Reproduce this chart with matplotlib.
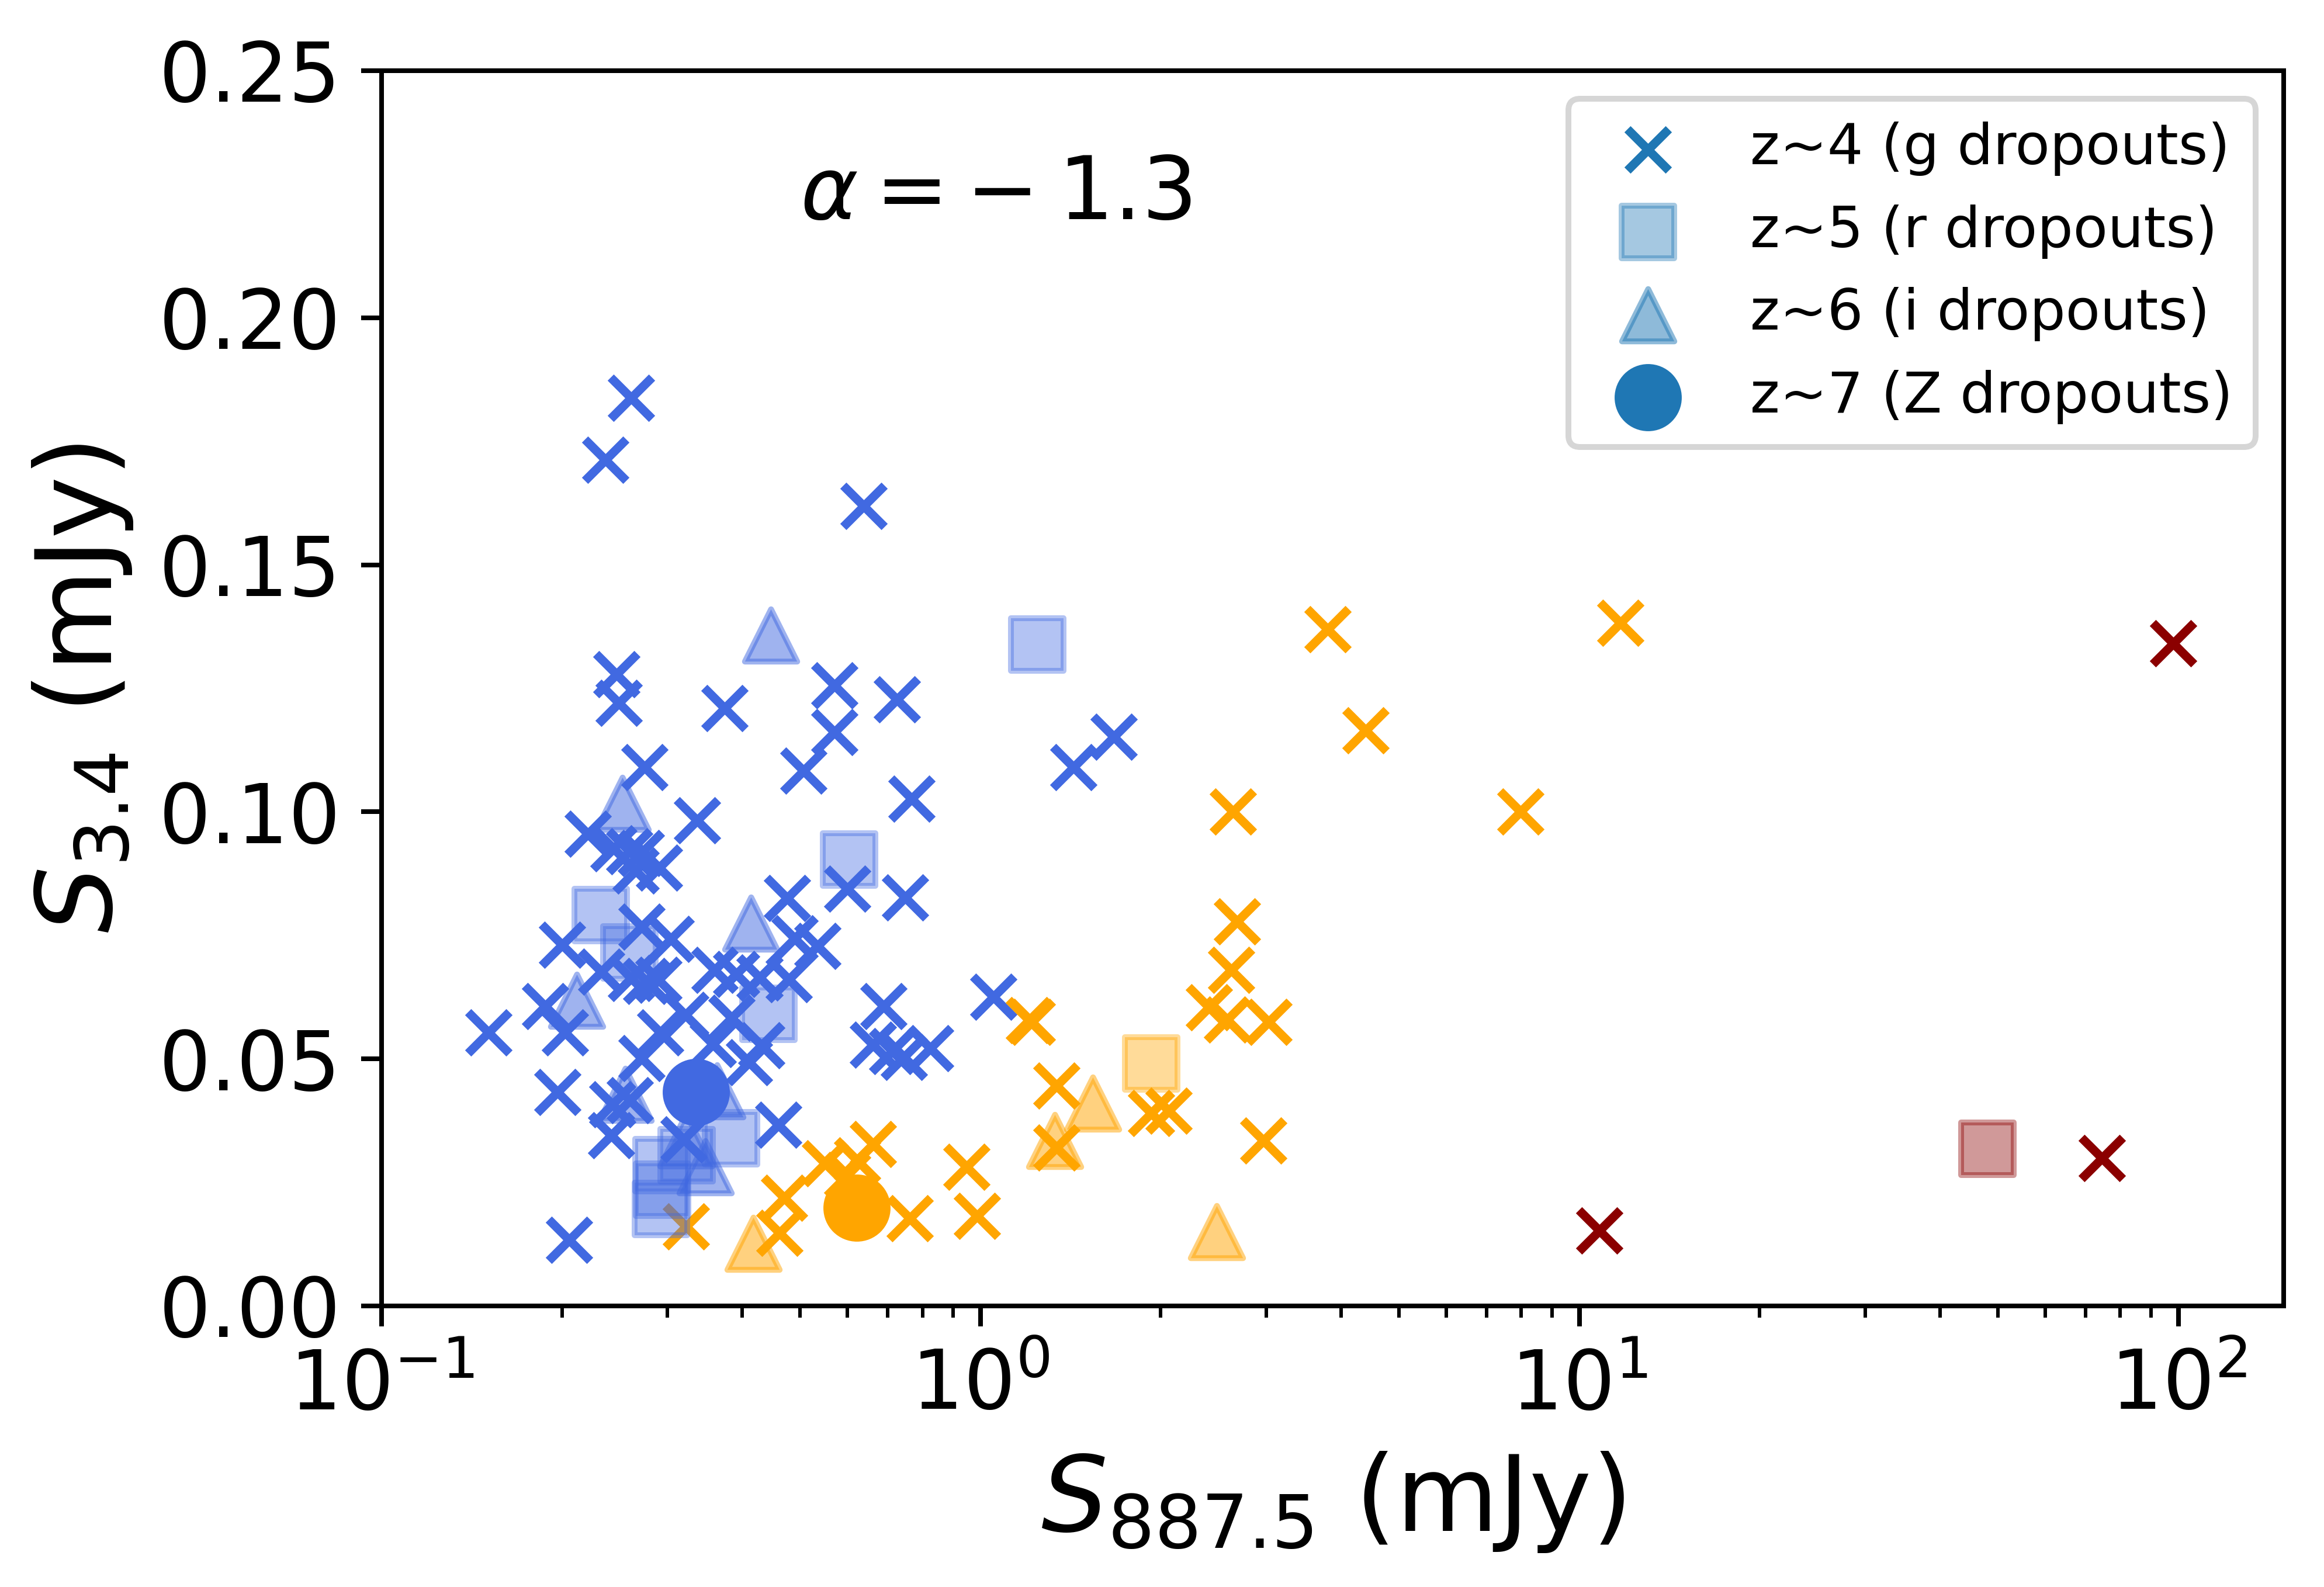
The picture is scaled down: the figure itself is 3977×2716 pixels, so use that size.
import matplotlib
matplotlib.use('Agg')
import matplotlib.pyplot as plt
import numpy as np

# z~4 (g dropouts), crosses
g_blue_x = [0.261, 0.2365, 0.638, 0.247, 0.249, 0.374, 0.571, 0.726, 0.571, 0.506,
            0.275, 0.768, 0.221, 0.3365, 0.244, 0.259, 0.271, 0.291, 0.266, 0.200,
            0.272, 0.304, 0.475, 0.49, 0.535, 0.599, 0.748, 0.233, 0.261, 0.277,
            0.290, 0.36, 0.391, 0.4275, 0.479, 0.1876, 0.2023, 0.151, 0.1967, 0.2059,
            0.322, 0.384, 0.3575, 0.431, 0.411, 0.292, 0.272, 0.243, 0.260, 0.242,
            0.3195, 0.46, 0.689, 1.05, 0.662, 0.712, 0.745, 0.824, 1.43, 1.67]
g_blue_y = [0.1838, 0.1712, 0.1619, 0.1278, 0.1221, 0.1210, 0.1256, 0.1228, 0.1161, 0.1083,
            0.1090, 0.1027, 0.0956, 0.0983, 0.0926, 0.0920, 0.0916, 0.0887, 0.0881, 0.0731,
            0.0768, 0.0743, 0.0826, 0.0744, 0.0729, 0.0844, 0.0827, 0.0676, 0.0664, 0.0657,
            0.0660, 0.0680, 0.0672, 0.0665, 0.0661, 0.0607, 0.0554, 0.0553, 0.0433, 0.0134,
            0.0589, 0.0583, 0.0530, 0.0528, 0.0493, 0.0554, 0.0501, 0.0408, 0.0416, 0.0345,
            0.0337, 0.0367, 0.0607, 0.0626, 0.0529, 0.0516, 0.0504, 0.0521, 0.109, 0.1152]

g_orange_x = [3.80, 11.7, 4.40, 2.64, 7.97, 2.68, 2.62, 2.41, 2.58, 3.03,
              2.97, 1.22, 1.34, 1.34, 1.93, 2.06, 0.947, 0.987, 0.762, 0.55,
              0.622, 0.662, 0.60, 0.4614, 0.47, 0.3226, 1.205]
g_orange_y = [0.1369, 0.1383, 0.1165, 0.1000, 0.1000, 0.0778, 0.0680, 0.0604, 0.0580, 0.0575,
              0.0335, 0.0575, 0.0446, 0.0320, 0.0390, 0.0395, 0.0282, 0.0182, 0.0177, 0.0289,
              0.0294, 0.0328, 0.0265, 0.0148, 0.0219, 0.0161, 0.0578]

g_red_x = [98.0, 74.5, 10.8]
g_red_y = [0.1341, 0.0299, 0.0153]

# z~5 (r dropouts), squares
r_blue_x = [1.245, 0.604, 0.232, 0.259, 0.443, 0.2936, 0.294, 0.293, 0.323, 0.3835]
r_blue_y = [0.1339, 0.0904, 0.0791, 0.0716, 0.0591, 0.0285, 0.0235, 0.0196, 0.0305, 0.0339]
r_orange_x = [1.93]
r_orange_y = [0.0491]
r_red_x = [48.0]
r_red_y = [0.0318]

# z~6 (i dropouts), triangles
i_blue_x = [0.4467, 0.2523, 0.4137, 0.212, 0.2553, 0.347, 0.3225, 0.363]
i_blue_y = [0.1358, 0.1017, 0.0775, 0.0618, 0.0428, 0.0282, 0.0336, 0.0435]
i_orange_x = [0.417, 1.33, 1.54, 2.48]
i_orange_y = [0.0127, 0.0335, 0.041, 0.015]

# z~7 (Z dropouts), circles
z_blue_x = [0.335]
z_blue_y = [0.0433]
z_orange_x = [0.621]
z_orange_y = [0.0199]

labels = ['z~4 (g dropouts)', 'z~5 (r dropouts)', 'z~6 (i dropouts)', 'z~7 (Z dropouts)']

dpi = 720
fig = plt.figure(figsize=(3977 / dpi, 2716 / dpi), dpi=dpi)
ax = fig.add_axes([653 / 3977, 1 - 2235 / 2716, (3908 - 653) / 3977, (2235 - 121) / 2716])

# crosses
ax.scatter(g_blue_x, g_blue_y, marker='x', s=50, color='royalblue')
ax.scatter(g_orange_x, g_orange_y, marker='x', s=50, color='orange')
ax.scatter(g_red_x, g_red_y, marker='x', s=50, color='darkred')

# squares
ax.scatter(r_blue_x, r_blue_y, marker='s', s=80, color='royalblue', alpha=0.4)
ax.scatter(r_orange_x, r_orange_y, marker='s', s=80, color='orange', alpha=0.4)
ax.scatter(r_red_x, r_red_y, marker='s', s=80, color='darkred', alpha=0.4)

# triangles
ax.scatter(i_blue_x, i_blue_y, marker='^', s=80, color='royalblue', alpha=0.5)
ax.scatter(i_orange_x, i_orange_y, marker='^', s=80, color='orange', alpha=0.5)

# circles
ax.scatter(z_blue_x, z_blue_y, marker='o', s=110, color='royalblue')
ax.scatter(z_orange_x, z_orange_y, marker='o', s=110, color='orange')

# legend handles in default colour
ax.scatter([], [], marker='x', s=50, color='C0', label=labels[0])
ax.scatter([], [], marker='s', s=80, color='C0', alpha=0.4, label=labels[1])
ax.scatter([], [], marker='^', s=80, color='C0', alpha=0.5, label=labels[2])
ax.scatter([], [], marker='o', s=110, color='C0', label=labels[3])

ax.text(0.5, 0.22, r'$\alpha = -\:1.3$', fontsize=15)

ax.set_xscale('log')
ax.set_xlim(0.1, 150)
ax.set_ylim(0, 0.25)
ax.tick_params(labelsize=14)
ax.set_xlabel(r'$S_{887.5}$ (mJy)', fontsize=18)
ax.set_ylabel(r'$S_{3.4}$ (mJy)', fontsize=18)
ax.legend(loc='upper right', fontsize=9.7)

plt.savefig('out.png', dpi=dpi)
plt.close()
